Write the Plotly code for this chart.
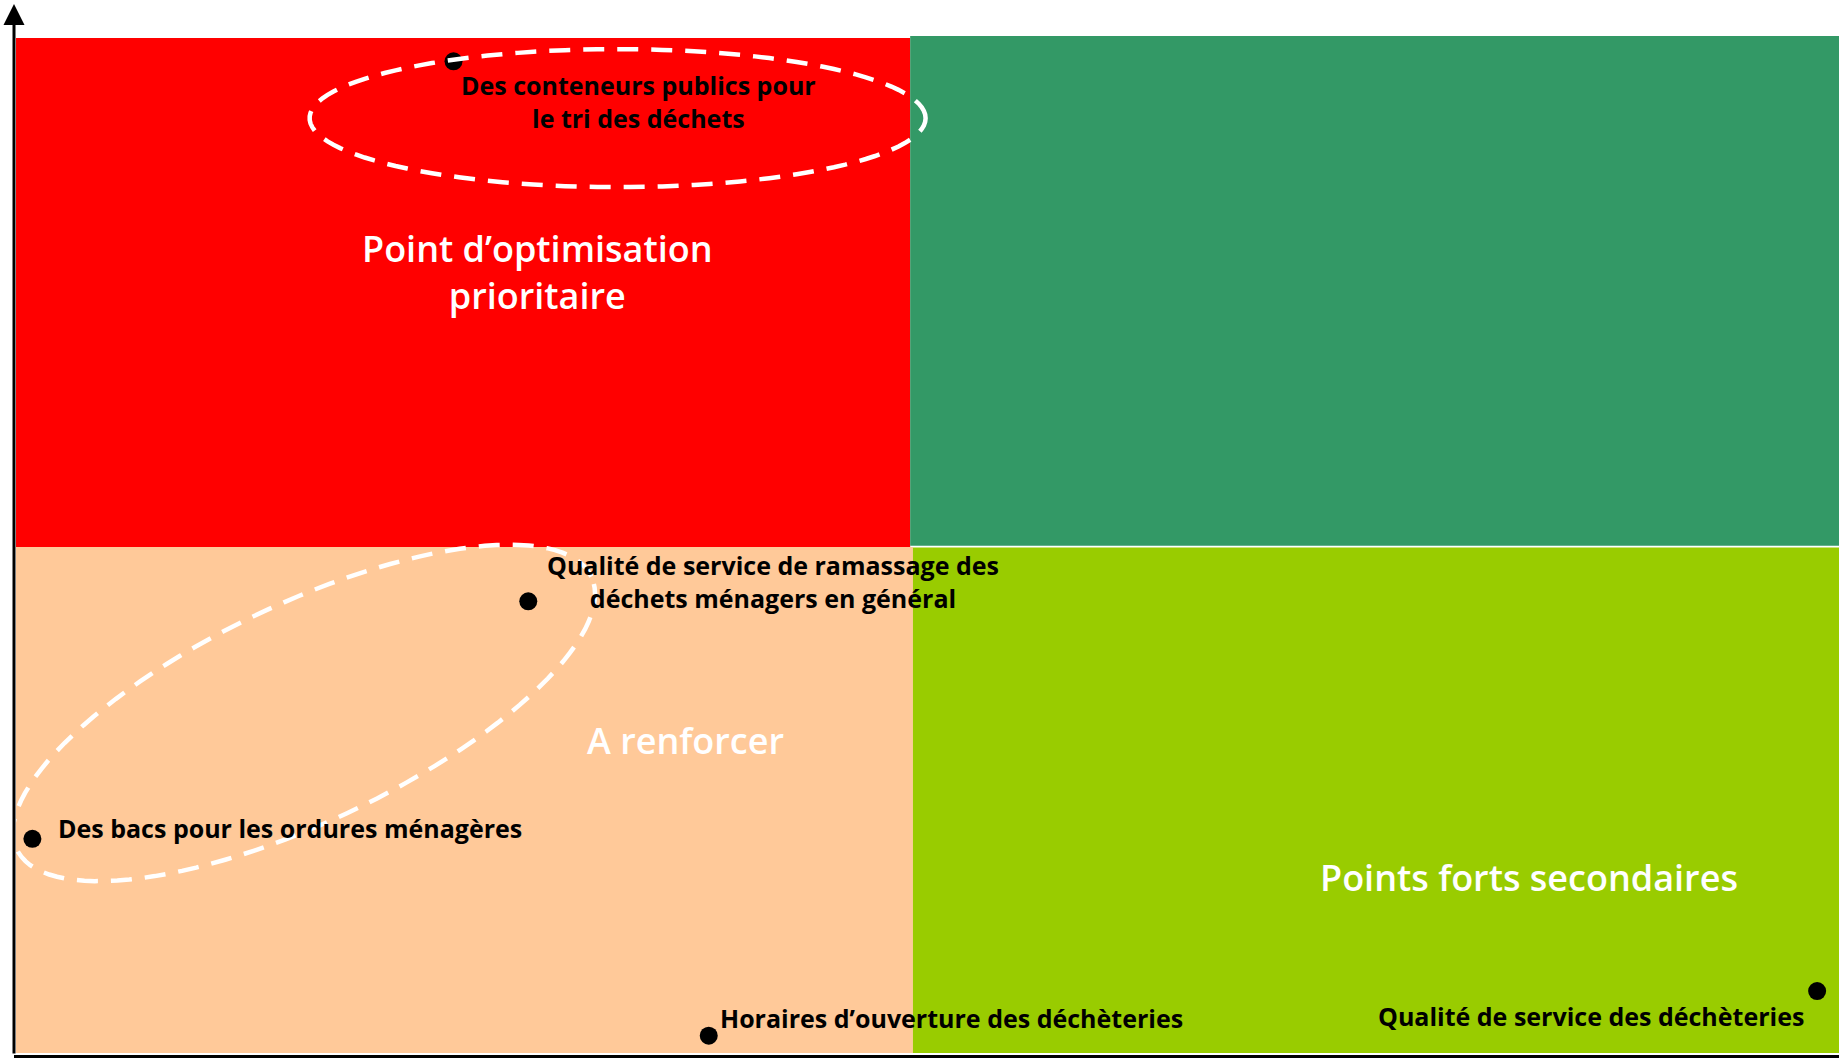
import numpy as np
import plotly.graph_objects as go

# Matrice importance / satisfaction, scores 0-100 sur les deux axes
items = [
    "Des conteneurs publics pour<br>le tri des déchets",
    "Qualité de service de ramassage des<br>déchets ménagers en général",
    "Des bacs pour les ordures ménagères",
    "Horaires d’ouverture des déchèteries",
    "Qualité de service des déchèteries",
]
x_scores = [24.0, 28.1, 0.9, 38.0, 98.8]
y_scores = [97.7, 44.5, 21.1, 1.7, 6.1]

quadrant_labels = ["Point d’optimisation<br>prioritaire", "A renforcer", "Points forts secondaires"]
quadrant_label_x = [28.6, 36.7, 83.0]
quadrant_label_y = [76.9, 30.8, 17.3]

X_SPLIT_TOP = 49.05
X_SPLIT_BOTTOM = 49.2
Y_SPLIT = 49.85

W, H = 1839, 1058
M_LEFT, M_BOTTOM = 14, 3
X_RANGE = [-0.11, 100]
Y_RANGE = [-0.2, 103.74]
XPX = (W - M_LEFT) / (X_RANGE[1] - X_RANGE[0])
YPX = (H - M_BOTTOM) / (Y_RANGE[1] - Y_RANGE[0])

FONT = "Open Sans"


def ellipse_path(cx, cy, a_px, b_px, angle_deg, n=120):
    # ellipse drawn in pixel space, then mapped back to data units
    t = np.linspace(0, 2 * np.pi, n)
    th = np.radians(angle_deg)
    dx = a_px * np.cos(t) * np.cos(th) - b_px * np.sin(t) * np.sin(th)
    dy = a_px * np.cos(t) * np.sin(th) + b_px * np.sin(t) * np.cos(th)
    xs = cx + dx / XPX
    ys = cy + dy / YPX
    pts = [f"{x:.3f},{y:.3f}" for x, y in zip(xs, ys)]
    return "M " + " L ".join(pts) + " Z"


fig = go.Figure()

fig.add_trace(
    go.Scatter(
        x=x_scores,
        y=y_scores,
        mode="markers",
        marker=dict(color="black", size=18),
        hoverinfo="skip",
        showlegend=False,
        cliponaxis=False,
    )
)

quadrants = [
    (0, X_SPLIT_TOP, Y_SPLIT, 100, "#FF0000"),
    (X_SPLIT_TOP, 100, 49.97, 100.2, "#339966"),
    (0, X_SPLIT_BOTTOM, 0, Y_SPLIT, "#FFC999"),
    (X_SPLIT_BOTTOM, 100, 0, 49.8, "#99CC00"),
]
for x0, x1, y0, y1, col in quadrants:
    fig.add_shape(
        type="rect", x0=x0, x1=x1, y0=y0, y1=y1,
        fillcolor=col, line_width=0, layer="below",
    )

dash = dict(color="white", width=4.5, dash="21px,13px")
fig.add_shape(type="path", path=ellipse_path(33.0, 92.1, 308, 69, 0), line=dash)
fig.add_shape(type="path", path=ellipse_path(15.8, 33.5, 318, 109, 25.4), line=dash)

# etiquettes des points : (décalage x, décalage y, ancrage)
offsets = [(185, -40, "center"), (245, 20, "center"), (24, 11, "left"), (9, 18, "left"), (-11, -25, "right")]
for txt, x, y, (dx, dy, anchor) in zip(items, x_scores, y_scores, offsets):
    fig.add_annotation(
        x=x, y=y, text=txt, showarrow=False,
        xshift=dx, yshift=dy, xanchor=anchor, yanchor="middle",
        font=dict(family=FONT, size=25, color="black", weight="bold"),
    )

for txt, x, y in zip(quadrant_labels, quadrant_label_x, quadrant_label_y):
    fig.add_annotation(
        x=x, y=y, text=txt, showarrow=False,
        font=dict(family=FONT, size=36, color="white", weight=600),
    )

# axe vertical avec flèche
fig.add_annotation(
    x=X_RANGE[0], y=Y_RANGE[1] - 4 / YPX, ax=X_RANGE[0], ay=Y_RANGE[0],
    xref="x", yref="y", axref="x", ayref="y",
    text="", showarrow=True, arrowhead=2, arrowsize=1.4, arrowwidth=3, arrowcolor="black",
)

fig.update_xaxes(
    range=X_RANGE, showgrid=False, zeroline=False, showticklabels=False, ticks="",
    showline=True, linecolor="black", linewidth=3,
)
fig.update_yaxes(
    range=Y_RANGE, showgrid=False, zeroline=False, showticklabels=False, ticks="",
)
fig.update_layout(
    width=W,
    height=H,
    margin=dict(l=M_LEFT, r=0, t=0, b=M_BOTTOM, pad=0),
    plot_bgcolor="white",
    paper_bgcolor="white",
    font=dict(family=FONT),
)

# la page ne doit pas ajouter de marge autour de la figure
fig.write_html(
    "out.html",
    config={"displayModeBar": False},
    post_script="document.body.style.margin='0px';",
)
